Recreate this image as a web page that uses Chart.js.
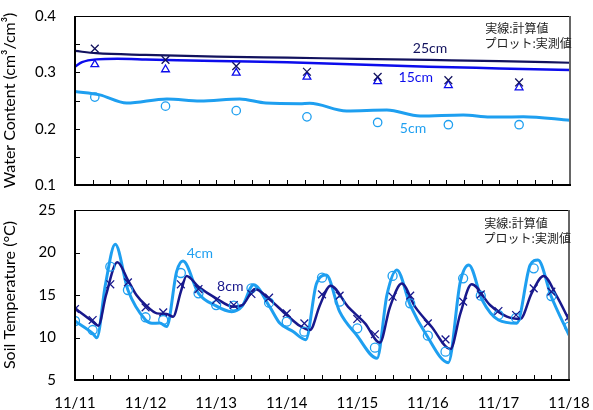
<!DOCTYPE html>
<html><head><meta charset="utf-8">
<script src="https://cdn.jsdelivr.net/npm/chart.js@4"></script>
<style>
html,body{margin:0;padding:0;background:#fff;}
#wrap{position:relative;width:593px;height:410px;overflow:hidden;}
#c1{position:absolute;left:0;top:0;}
#c2{position:absolute;left:0;top:195px;}
</style></head><body>
<div id="wrap">
<canvas id="c1" width="593" height="195"></canvas>
<canvas id="c2" width="593" height="215"></canvas>
</div>
<script>
// ---------- DATA ----------
const dayLabels = ['11/11','11/12','11/13','11/14','11/15','11/16','11/17','11/18'];

// Water content (top): simulated lines
const wcSimTimes25 = [0,0.3,1,2,3,4,5,6,7];
const wcSim25      = [0.338,0.334,0.331,0.328,0.326,0.324,0.322,0.320,0.317];
const wcSimTimes15 = [0,0.1,0.3,0.6,1,2,3,4,5,6,7];
const wcSim15      = [0.310,0.318,0.323,0.324,0.323,0.320,0.318,0.314,0.310,0.307,0.304];
const wcSimTimes5  = [0,0.35,0.73,1.3,1.77,2.33,2.7,3.18,3.32,3.84,4.41,4.88,5.49,5.87,6.34,7];
const wcSim5       = [0.266,0.260,0.2455,0.2527,0.249,0.2527,0.2455,0.2444,0.245,0.2314,0.2331,0.2225,0.2243,0.2205,0.2213,0.2150];
// Water content: measured
const wcObsTimes = [0.28,1.28,2.28,3.28,4.28,5.28,6.28];
const wcObs25 = [0.342,0.322,0.311,0.301,0.292,0.286,0.282];
const wcObs15 = [0.314,0.305,0.299,0.292,0.284,0.277,0.273];
const wcObs5  = [0.256,0.240,0.232,0.221,0.211,0.207,0.207];

// Soil temperature (bottom): simulated lines
const tSimTimes4 = [0,0.25,0.31,0.43,0.57,0.75,1.0,1.09,1.2,1.3,1.44,1.53,1.75,1.98,2.22,2.37,2.53,2.76,2.9,3.09,3.27,3.42,3.56,3.75,3.99,4.28,4.42,4.56,4.75,4.98,5.29,5.46,5.58,5.77,6.0,6.26,6.45,6.56,6.75,7.0];
const tSim4      = [11.94,10.49,9.98,16.18,20.96,15.59,12.06,11.67,11.7,11.3,17.75,19.0,15.2,13.8,13.04,13.7,16.2,13.6,11.7,10.7,9.75,16.3,17.35,13.04,10.29,7.55,15.0,17.94,13.82,10.29,7.04,16.57,18.53,14.41,12.06,11.67,18.53,19.12,14.8,10.29];
const tSimTimes8 = [0,0.15,0.25,0.33,0.44,0.6,0.75,0.87,1.0,1.16,1.3,1.39,1.5,1.58,1.75,2.0,2.24,2.37,2.55,2.75,3.0,3.19,3.33,3.47,3.62,3.87,4.11,4.32,4.46,4.63,4.82,5.05,5.32,5.46,5.62,5.88,6.12,6.31,6.47,6.64,6.83,7.0];
const tSim8      = [13.43,12.5,11.86,11.39,15.0,18.84,16.76,15.0,13.82,12.84,12.76,12.45,15.39,17.24,15.98,14.61,13.63,13.8,15.7,14.53,12.65,11.35,10.88,13.8,16.1,13.6,11.67,9.4,13.5,16.35,13.6,11.3,8.65,12.8,16.26,13.82,12.45,12.18,15.2,17.24,14.8,12.06];
// Soil temperature: measured every 6 h
const tObsTimes = [0,0.25,0.5,0.75,1,1.25,1.5,1.75,2,2.25,2.5,2.75,3,3.25,3.5,3.75,4,4.25,4.5,4.75,5,5.25,5.5,5.75,6,6.25,6.5,6.75,7];
const tObs8 = [13.35,12.06,16.26,16.49,13.55,12.96,16.26,15.7,14.41,13.82,15.12,14.68,12.84,11.67,15.08,14.92,12.18,10.38,14.8,14.92,11.67,9.78,14.22,15.08,13.12,12.65,15.78,15.39,12.45];
const tObs4 = [11.94,10.88,18.33,15.59,12.38,12.06,17.59,15.2,13.82,13.74,15.78,14.1,11.86,10.69,17.04,14.22,11.08,8.8,17.24,14.02,10.22,8.33,16.96,14.92,12.65,12.3,18.14,14.88,11.27];

// ---------- STYLE ----------
const NAVY = '#12125e', BLUE = '#0c0cec', LBLUE = '#1e9ff0', NAVY8 = '#18188c';
const FONT = 'Lato, "Liberation Sans", sans-serif';
const pts = (ts, vs) => ts.map((t,i)=>({x:t,y:vs[i]}));

function lineDs(ts, vs, color, w){
  return {data:pts(ts,vs), showLine:true, borderColor:color, borderWidth:w, pointRadius:0, pointHoverRadius:0,
          cubicInterpolationMode:'monotone', fill:false, order:2};
}
function markDs(ts, vs, color, style, r){
  return {data:pts(ts,vs), showLine:false, pointStyle:style, pointRadius:r, pointHoverRadius:r, pointBorderColor:color,
          pointBackgroundColor:'rgba(0,0,0,0)', pointBorderWidth:1.3, borderColor:color, order:1};
}

function framePlugin(texts){
  return {
    id:'frameTicks',
    afterDraw(chart){
      const {ctx, chartArea:a, scales:{x,y}} = chart;
      ctx.save();
      ctx.strokeStyle='#000'; ctx.lineWidth=1;
      x.ticks.forEach(t=>{
        const px = Math.round(x.getPixelForValue(t.value))+0.5;
        ctx.beginPath(); ctx.moveTo(px,a.bottom); ctx.lineTo(px,a.bottom-5); ctx.stroke();
      });
      y.ticks.forEach(t=>{
        const py = Math.round(y.getPixelForValue(t.value))+0.5;
        ctx.beginPath(); ctx.moveTo(a.left,py); ctx.lineTo(a.left+5,py); ctx.stroke();
      });
      // frame
      ctx.lineWidth=1; ctx.strokeStyle='#000';
      ctx.beginPath(); ctx.moveTo(a.left,a.top+0.5); ctx.lineTo(a.right,a.top+0.5); ctx.stroke();
      ctx.lineWidth=2; ctx.strokeStyle='#666';
      ctx.beginPath(); ctx.moveTo(a.right,a.top); ctx.lineTo(a.right,a.bottom); ctx.stroke();
      ctx.strokeStyle='#000';
      ctx.beginPath(); ctx.moveTo(a.left,a.top); ctx.lineTo(a.left,a.bottom); ctx.lineTo(a.right+1,a.bottom); ctx.stroke();
      // annotations
      texts.forEach(tx=>{
        ctx.font = tx.font; ctx.fillStyle = tx.color;
        ctx.textAlign = tx.align; ctx.textBaseline='middle';
        ctx.fillText(tx.text, x.getPixelForValue(tx.x), y.getPixelForValue(tx.y));
      });
      ctx.restore();
    }
  };
}

const hiddenTicks = len => ({display:true, drawOnChartArea:false, drawTicks:true, tickLength:len, tickColor:'rgba(0,0,0,0)', color:'rgba(0,0,0,0)'});

function makeOptions(yMin,yMax,yStep,yLabelFn,yTitle,showX,pad,xH){
  return {
    responsive:false, animation:false, devicePixelRatio:1,
    layout:{padding:pad, autoPadding:false},
    events:[],
    plugins:{legend:{display:false}, tooltip:{enabled:false}},
    scales:{
      x:{type:'linear', min:0, max:7,
         grid: showX ? hiddenTicks(14) : {display:false, drawTicks:false}, border:{display:false},
         ticks:{display:showX, stepSize:0.25, autoSkip:false, maxRotation:0, padding:0,
                color:'#000', font:{family:FONT,size:15},
                callback:v=>{const r=Math.round(v*4); return r%4===0 ? dayLabels[r/4] : '';}},
         afterFit:s=>{s.height=xH;}},
      y:{min:yMin, max:yMax,
         grid:hiddenTicks(18), border:{display:false},
         ticks:{stepSize:yStep, autoSkip:false, padding:1, color:'#000', font:{family:FONT,size:15},
                callback:yLabelFn},
         title:{display:true, text:yTitle, color:'#000', font:{family:FONT,size:16}, padding:{top:0,bottom:0}},
         afterFit:s=>{s.width=75;}}
    }
  };
}

const jpFont = '12px "Noto Sans CJK JP", sans-serif';
const lblFont = '14px ' + FONT;

new Chart(document.getElementById('c1'), {
  type:'scatter',
  data:{datasets:[
    markDs(wcObsTimes, wcObs25, NAVY, 'crossRot', 5.5),
    markDs(wcObsTimes, wcObs15, BLUE, 'triangle', 4.5),
    markDs(wcObsTimes, wcObs5, LBLUE, 'circle', 4.2),
    lineDs(wcSimTimes25, wcSim25, NAVY, 2.2),
    lineDs(wcSimTimes15, wcSim15, BLUE, 2.5),
    lineDs(wcSimTimes5, wcSim5, LBLUE, 3)
  ]},
  options: makeOptions(0.1,0.4,0.05,
    v=>{const r=Math.round(v*100); return r%10===0 ? (r/100).toFixed(1) : '';},
    'Water Content (cm³/cm³)', false, {top:16,right:23,bottom:10,left:0}, 0),
  plugins:[framePlugin([
    {text:'実線:計算値', x:5.80, y:0.3787, color:'#222', font:jpFont, align:'left'},
    {text:'プロット:実測値', x:5.79, y:0.352, color:'#222', font:jpFont, align:'left'},
    {text:'25cm', x:5.02, y:0.343, color:NAVY, font:lblFont, align:'center'},
    {text:'15cm', x:4.82, y:0.290, color:BLUE, font:lblFont, align:'center'},
    {text:'5cm', x:4.78, y:0.201, color:LBLUE, font:lblFont, align:'center'}
  ])]
});

new Chart(document.getElementById('c2'), {
  type:'scatter',
  data:{datasets:[
    markDs(tObsTimes, tObs8, NAVY8, 'crossRot', 5.5),
    markDs(tObsTimes, tObs4, LBLUE, 'circle', 4.5),
    lineDs(tSimTimes8, tSim8, NAVY8, 2.5),
    lineDs(tSimTimes4, tSim4, LBLUE, 3)
  ]},
  options: makeOptions(5,25,5, v=>String(v), 'Soil Temperature (°C)', true,
    {top:15,right:24,bottom:0,left:0}, 30),
  plugins:[framePlugin([
    {text:'実線:計算値', x:5.80, y:23.47, color:'#222', font:jpFont, align:'left'},
    {text:'プロット:実測値', x:5.79, y:21.7, color:'#222', font:jpFont, align:'left'},
    {text:'4cm', x:1.77, y:19.94, color:LBLUE, font:lblFont, align:'center'},
    {text:'8cm', x:2.2, y:16.06, color:NAVY8, font:lblFont, align:'center'}
  ])]
});
</script>
</body></html>
